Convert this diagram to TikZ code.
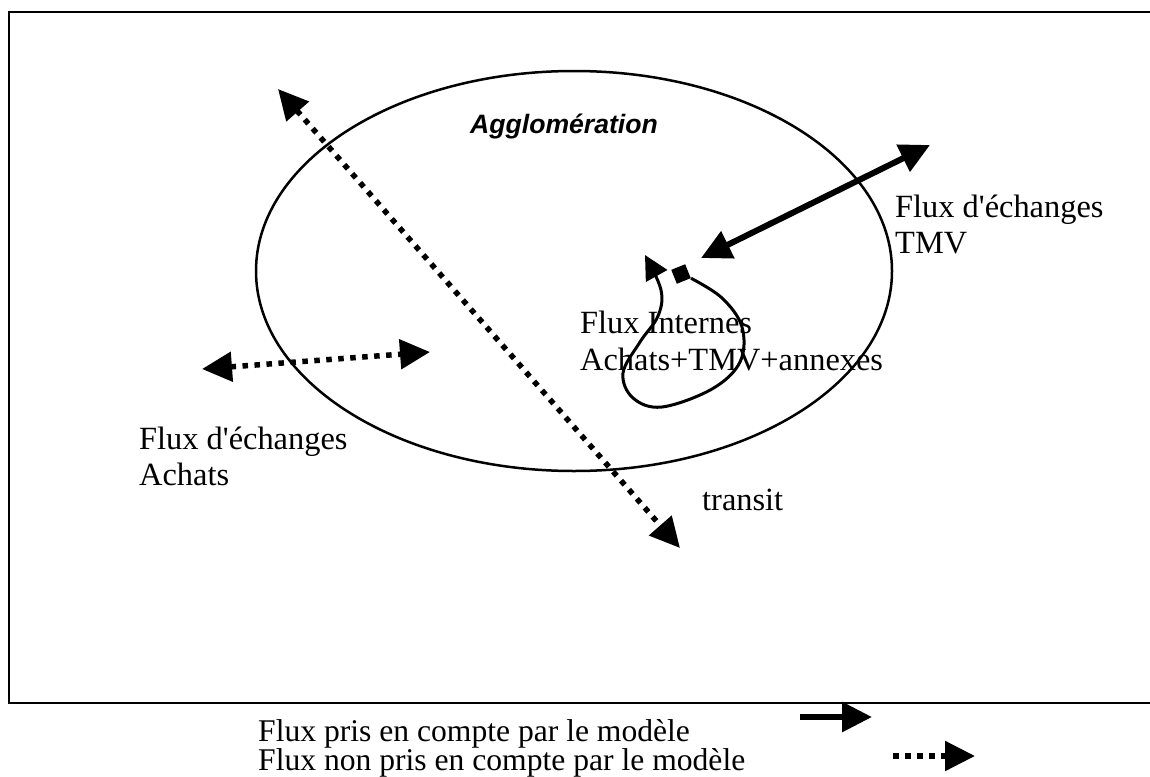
\documentclass[tikz,border=0pt]{standalone}
\usepackage{fontspec}
\setmainfont{Liberation Serif}
\newfontfamily\arialfont{Liberation Sans}
\usetikzlibrary{arrows.meta}
\tikzset{
  bigtip/.tip={Triangle[length=30pt,width=29pt]},
  smalltip/.tip={Triangle[length=24pt,width=24pt]},
  txt/.style={anchor=base west, inner sep=0pt, font=\fontsize{32.4}{36}\selectfont},
  legtxt/.style={anchor=base west, inner sep=0pt, font=\fontsize{31.6}{34}\selectfont},
  solidflow/.style={line width=6pt},
  dotflow/.style={line width=5.5pt, dash pattern=on 5.5pt off 6.5pt},
  frameline/.style={line width=2.5pt},
}
\begin{document}
\begin{tikzpicture}[x=1pt,y=-1pt]
\useasboundingbox (0,0) rectangle (1150,776);
% frame
\draw[frameline] (1160,12) -- (9,12) -- (9,703) -- (1160,703);
% ellipse
\draw[line width=2.5pt] (574,271) ellipse [x radius=318, y radius=200];
\node[inner sep=0pt, font=\arialfont\bfseries\itshape\fontsize{26.6}{30}\selectfont] (titre) at (564,127) {Agglomération};
% transit arrow
\coordinate (tA) at (278,89);
\coordinate (tB) at (680,548);
\draw[dotflow, {bigtip}-{bigtip}] (tA) -- (tB);
% achats arrow
\coordinate (aA) at (202,369);
\coordinate (aB) at (430,352);
\draw[dotflow, {bigtip}-{bigtip}] (aA) -- (aB);
% TMV arrow
\coordinate (mA) at (930,145);
\coordinate (mB) at (701,258);
\draw[solidflow, {bigtip}-{bigtip}] (mA) -- (mB);
% internal loop
\node[fill=black, rotate=22, minimum size=15pt, inner sep=0pt] (sq) at (681,274) {};
\coordinate (loopend) at (645,255);
\draw[line width=3pt, -{smalltip}] plot[smooth, tension=0.6] coordinates {(sq.south east) (722,298) (742,327) (740,362) (712,389) (662,407) (633,398) (623,373) (640,342) (658,316) (661,290) (loopend)};
% labels
\node[txt] (tmv1) at (895,217) {Flux d\textquotesingle échanges};
\node[txt] (tmv2) at (895,253) {TMV};
\node[txt] (int1) at (580,333) {Flux Internes};
\node[txt] (int2) at (580,370) {Achats+TMV+annexes};
\node[txt] (ach1) at (139,449) {Flux d\textquotesingle échanges};
\node[txt] (ach2) at (139,485) {Achats};
\node[txt] (tr) at (702,510) {transit};
% legend
\node[legtxt] (leg1) at (258,741) {Flux pris en compte par le modèle};
\node[legtxt] (leg2) at (258,770) {Flux non pris en compte par le modèle};
\coordinate (l1a) at (800,717);
\coordinate (l1b) at (872,717);
\draw[solidflow, -{bigtip}] (l1a) -- (l1b);
\coordinate (l2a) at (893,756);
\coordinate (l2b) at (975,756);
\draw[dotflow, -{bigtip}] (l2a) -- (l2b);
\end{tikzpicture}
\end{document}
